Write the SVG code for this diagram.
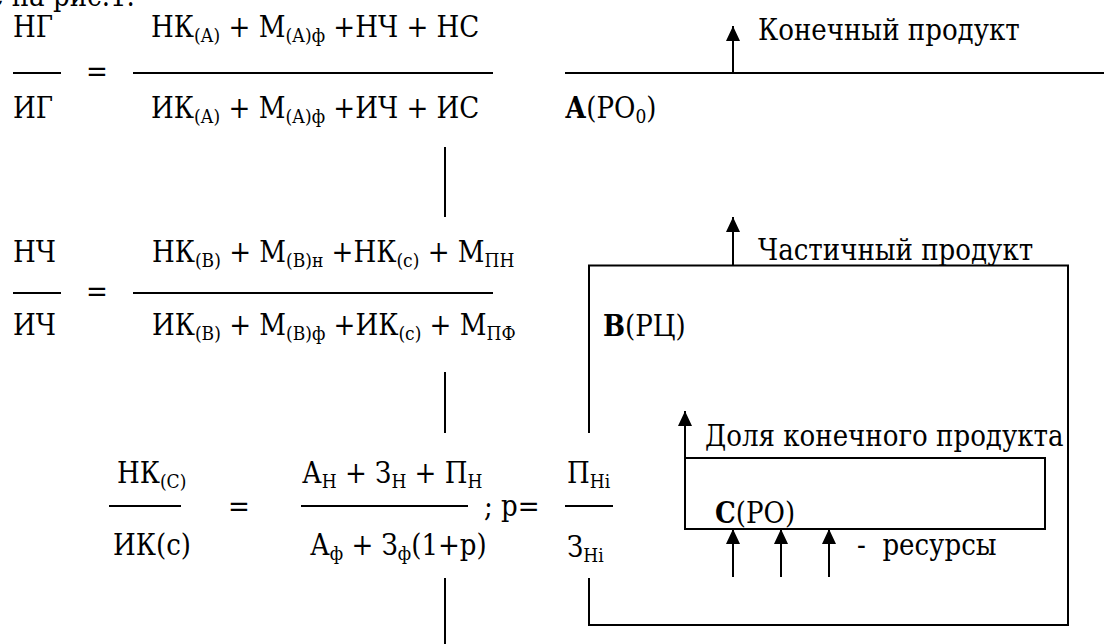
<svg xmlns="http://www.w3.org/2000/svg" width="1104" height="644" viewBox="0 0 1104 644">
<style>
.t text{font-family:'DejaVu Serif Condensed','DejaVu Serif',serif;font-stretch:condensed;font-size:29px;fill:#000}
.t .s{font-size:19px}
.t .b{font-weight:bold}
.ln{stroke:#000;stroke-width:2;fill:none}
.ar{stroke:#000;stroke-width:2;fill:none;marker-end:url(#ah)}
</style>
<defs>
<marker id="ah" viewBox="0 0 15 14" refX="15" refY="7" markerUnits="userSpaceOnUse" markerWidth="15" markerHeight="14" orient="auto">
<path d="M0,0 L15,7 L0,14 z" fill="#000"/>
</marker>
</defs>
<rect width="1104" height="644" fill="#fff"/>
<g class="t">
<text x="-12" y="6">е на рис.1.</text>
<g id="eq1">
<text x="13" y="37">НГ</text>
<line class="ln" x1="13" y1="73" x2="61" y2="73"/>
<text x="13" y="118">ИГ</text>
<text x="86" y="81">=</text>
<text x="151" y="37">НК<tspan class="s" dy="5">(А)</tspan><tspan dy="-5"> + М</tspan><tspan class="s" dy="5">(А)ф</tspan><tspan dy="-5"> +НЧ + НС</tspan></text>
<line class="ln" x1="133" y1="73" x2="493" y2="73"/>
<text x="151" y="118">ИК<tspan class="s" dy="5">(А)</tspan><tspan dy="-5"> + М</tspan><tspan class="s" dy="5">(А)ф</tspan><tspan dy="-5"> +ИЧ + ИС</tspan></text>
</g>
<g id="eq2">
<text x="13" y="262">НЧ</text>
<line class="ln" x1="13" y1="293" x2="61" y2="293"/>
<text x="13" y="335">ИЧ</text>
<text x="86" y="301">=</text>
<text x="152" y="262">НК<tspan class="s" dy="5">(В)</tspan><tspan dy="-5"> + М</tspan><tspan class="s" dy="5">(В)н</tspan><tspan dy="-5"> +НК</tspan><tspan class="s" dy="5">(с)</tspan><tspan dy="-5"> + М</tspan><tspan class="s" dy="5">ПН</tspan></text>
<line class="ln" x1="133" y1="293" x2="493" y2="293"/>
<text x="152" y="335">ИК<tspan class="s" dy="5">(В)</tspan><tspan dy="-5"> + М</tspan><tspan class="s" dy="5">(В)ф</tspan><tspan dy="-5"> +ИК</tspan><tspan class="s" dy="5">(с)</tspan><tspan dy="-5"> + М</tspan><tspan class="s" dy="5">ПФ</tspan></text>
</g>
<g id="eq3">
<text x="117" y="483">НК<tspan class="s" dy="5">(С)</tspan></text>
<line class="ln" x1="109" y1="506" x2="181" y2="506"/>
<text x="113" y="555">ИК(с)</text>
<text x="228" y="516">=</text>
<text x="302" y="483">А<tspan class="s" dy="5">Н</tspan><tspan dy="-5"> + З</tspan><tspan class="s" dy="5">Н</tspan><tspan dy="-5"> + П</tspan><tspan class="s" dy="5">Н</tspan></text>
<line class="ln" x1="301" y1="506" x2="468" y2="506"/>
<text x="310" y="555">А<tspan class="s" dy="5">ф</tspan><tspan dy="-5"> + З</tspan><tspan class="s" dy="5">ф</tspan><tspan dy="-5">(1+р)</tspan></text>
<text x="484" y="516">; р=</text>
<text x="567" y="483">П<tspan class="s" dy="5">Нi</tspan></text>
<line class="ln" x1="565" y1="506" x2="613" y2="506"/>
<text x="567" y="557">З<tspan class="s" dy="5">Нi</tspan></text>
</g>
<g id="nodeA">
<line class="ln" x1="565" y1="73" x2="1104" y2="73"/>
<text x="565" y="118"><tspan class="b">А</tspan>(РО<tspan class="s" dy="5">0</tspan><tspan dy="-5">)</tspan></text>
<text x="758" y="40">Конечный продукт</text>
</g>
<g id="nodeB">
<path class="ln" d="M589,433 V265.5 H1068 V625 H589 V578"/>
<text x="603" y="336"><tspan class="b">В</tspan>(РЦ)</text>
<text x="758" y="260">Частичный продукт</text>
</g>
<g id="nodeC">
<rect class="ln" x="685" y="458" width="360" height="71"/>
<text x="715" y="523"><tspan class="b">С</tspan>(РО)</text>
<text x="705" y="446">Доля конечного продукта</text>
<text x="857" y="555" xml:space="preserve">-  ресурсы</text>
</g>
</g>
<g id="connectors">
<line class="ln" x1="445" y1="147" x2="445" y2="217"/>
<line class="ln" x1="445" y1="372" x2="445" y2="433"/>
<line class="ln" x1="445" y1="578" x2="445" y2="644"/>
<line class="ar" x1="733" y1="73" x2="733" y2="26"/>
<line class="ar" x1="733" y1="265" x2="733" y2="217"/>
<line class="ar" x1="685" y1="458" x2="685" y2="411"/>
<line class="ar" x1="733" y1="577" x2="733" y2="529"/>
<line class="ar" x1="781" y1="577" x2="781" y2="529"/>
<line class="ar" x1="829" y1="577" x2="829" y2="529"/>
</g>
</svg>
